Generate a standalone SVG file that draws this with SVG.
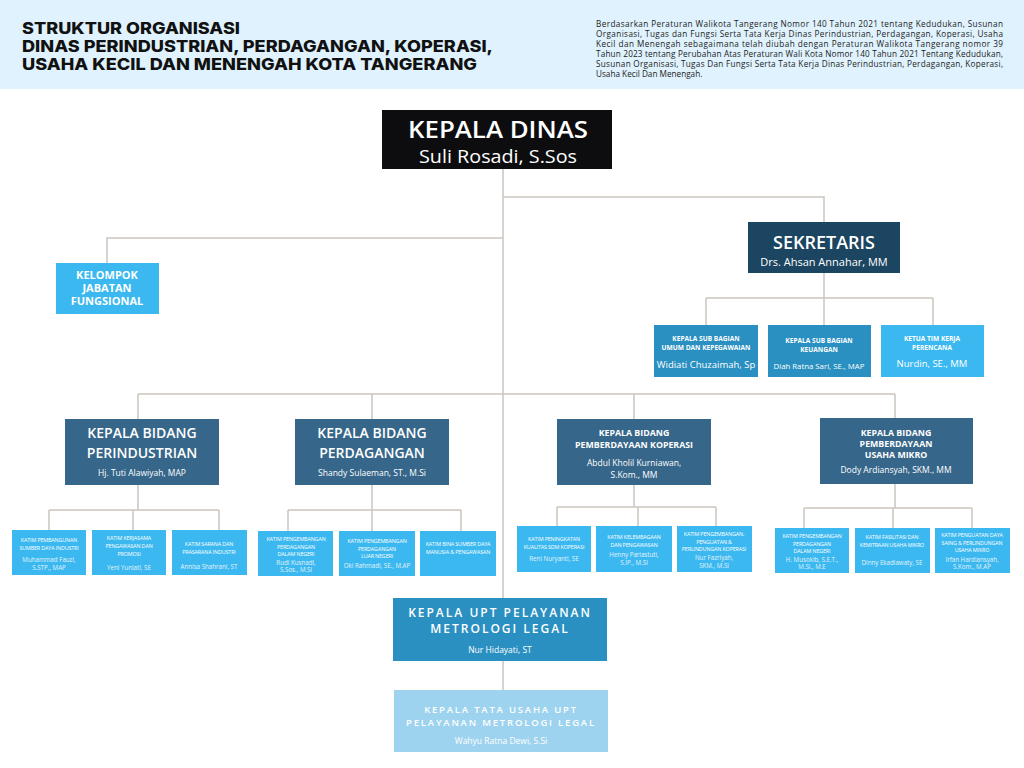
<svg xmlns="http://www.w3.org/2000/svg" width="1024" height="768" viewBox="0 0 1024 768">
<style>
.t{font-family:"Open Sans","Liberation Sans",sans-serif;fill:#fff;text-anchor:middle}
.b{font-weight:700}
.ttl{font-family:Inter,"Liberation Sans",sans-serif;font-weight:800;font-size:16.5px;fill:#111}
.par{font-family:"Open Sans","Liberation Sans",sans-serif;font-size:8.2px;fill:#222}
.kt{font-family:"Open Sans","Liberation Sans",sans-serif;font-size:5.4px;fill:#fff;text-anchor:middle;letter-spacing:-0.15px}
.kn{font-family:"Open Sans","Liberation Sans",sans-serif;font-size:6.2px;fill:#e3f3fc;text-anchor:middle}
.lb{fill:#3bb8ef}
.mb{fill:#2a8fc1}
.db{fill:#366689}
.ln{fill:none;stroke:#cbc5bd;stroke-width:1.5}
</style>
<rect width="1024" height="768" fill="#fff"/>
<g id="header">
<rect x="0" y="0" width="1024" height="89" fill="#dff2fd"/>
<text class="ttl" x="22" y="34" textLength="218" lengthAdjust="spacingAndGlyphs">STRUKTUR ORGANISASI</text>
<text class="ttl" x="22" y="52" textLength="471" lengthAdjust="spacingAndGlyphs">DINAS PERINDUSTRIAN, PERDAGANGAN, KOPERASI,</text>
<text class="ttl" x="22" y="70" textLength="455" lengthAdjust="spacingAndGlyphs">USAHA KECIL DAN MENENGAH KOTA TANGERANG</text>
<text class="par" x="596" y="27" textLength="407" lengthAdjust="spacing">Berdasarkan Peraturan Walikota Tangerang Nomor 140 Tahun 2021 tentang Kedudukan, Susunan</text>
<text class="par" x="596" y="37" textLength="407" lengthAdjust="spacing">Organisasi, Tugas dan Fungsi Serta Tata Kerja Dinas Perindustrian, Perdagangan, Koperasi, Usaha</text>
<text class="par" x="596" y="47" textLength="407" lengthAdjust="spacing">Kecil dan Menengah sebagaimana telah diubah dengan Peraturan Walikota Tangerang nomor 39</text>
<text class="par" x="596" y="57" textLength="407" lengthAdjust="spacing">Tahun 2023 tentang Perubahan Atas Peraturan Wali Kota Nomor 140 Tahun 2021 Tentang Kedudukan,</text>
<text class="par" x="596" y="67" textLength="407" lengthAdjust="spacing">Susunan Organisasi, Tugas Dan Fungsi Serta Tata Kerja Dinas Perindustrian, Perdagangan, Koperasi,</text>
<text class="par" x="596" y="77">Usaha Kecil Dan Menengah.</text>
</g>
<g id="connectors">
<path class="ln" d="M503 169V598M503 197H824V222M503 238H107V263"/>
<path class="ln" d="M824 273V298M706 298H933M706 298V325M824 298V325M933 298V325"/>
<path class="ln" d="M138 394H895M138 394V419M372 394V419M634 394V419M895 394V418"/>
<path class="ln" d="M138 485V510M49 510H219M49 510V530M133 510V530M219 510V530"/>
<path class="ln" d="M372 485V510M288 510H461M288 510V531M372 510V531M461 510V531"/>
<path class="ln" d="M634 485V507M557 507H716M557 507V526M638 507V526M716 507V526"/>
<path class="ln" d="M895 484V508M804 508H972M804 508V528M893 508V528M972 508V528"/>
<path class="ln" d="M503 661V690"/>
</g>
<g id="kepala-dinas">
<rect x="382" y="110" width="230" height="59" fill="#0d0d0f"/>
<text class="t" x="498" y="138" font-size="23" font-weight="600" textLength="180" lengthAdjust="spacingAndGlyphs">KEPALA DINAS</text>
<text class="t" x="498" y="163" font-size="18" textLength="158" lengthAdjust="spacingAndGlyphs">Suli Rosadi, S.Sos</text>
</g>
<g id="sekretaris">
<rect x="748" y="222" width="152" height="51" fill="#1b4560"/>
<text class="t" x="824" y="249" font-size="18" font-weight="600">SEKRETARIS</text>
<text class="t" x="824" y="266" font-size="11">Drs. Ahsan Annahar, MM</text>
</g>
<g id="kelompok-jabatan-fungsional">
<rect class="lb" x="56" y="263" width="103" height="51"/>
<text class="t b" x="107" y="279" font-size="11">KELOMPOK</text>
<text class="t b" x="107" y="292" font-size="11">JABATAN</text>
<text class="t b" x="107" y="305" font-size="11">FUNGSIONAL</text>
</g>
<g id="subbag-umum">
<rect class="mb" x="654" y="325" width="104" height="52"/>
<text class="t b" x="706" y="341" font-size="6.6">KEPALA SUB BAGIAN</text>
<text class="t b" x="706" y="349.5" font-size="6.6">UMUM DAN KEPEGAWAIAN</text>
<text class="t" x="706" y="368" font-size="9.5">Widiati Chuzaimah, Sp</text>
</g>
<g id="subbag-keuangan">
<rect class="mb" x="768" y="325" width="103" height="52"/>
<text class="t b" x="819" y="343" font-size="6.6">KEPALA SUB BAGIAN</text>
<text class="t b" x="819" y="351.5" font-size="6.6">KEUANGAN</text>
<text class="t" x="819" y="369" font-size="7.8">Diah Ratna Sari, SE., MAP</text>
</g>
<g id="ketua-tim-perencana">
<rect class="lb" x="881" y="325" width="103" height="52"/>
<text class="t b" x="932" y="341" font-size="6.6">KETUA TIM KERJA</text>
<text class="t b" x="932" y="349.5" font-size="6.6">PERENCANA</text>
<text class="t" x="932" y="367" font-size="9.5">Nurdin, SE., MM</text>
</g>
<g id="bidang-perindustrian">
<rect class="db" x="65" y="419" width="154" height="66"/>
<text class="t" x="142" y="438" font-size="14" font-weight="600">KEPALA BIDANG</text>
<text class="t" x="142" y="458" font-size="14" font-weight="600">PERINDUSTRIAN</text>
<text class="t" x="142" y="476" font-size="8.5">Hj. Tuti Alawiyah, MAP</text>
</g>
<g id="bidang-perdagangan">
<rect class="db" x="295" y="419" width="154" height="66"/>
<text class="t" x="372" y="438" font-size="14" font-weight="600">KEPALA BIDANG</text>
<text class="t" x="372" y="458" font-size="14" font-weight="600">PERDAGANGAN</text>
<text class="t" x="372" y="476" font-size="8.5">Shandy Sulaeman, ST., M.Si</text>
</g>
<g id="bidang-koperasi">
<rect class="db" x="557" y="419" width="154" height="66"/>
<text class="t b" x="634" y="436" font-size="8.8">KEPALA BIDANG</text>
<text class="t b" x="634" y="447.5" font-size="8.8">PEMBERDAYAAN KOPERASI</text>
<text class="t" x="634" y="466" font-size="8.5">Abdul Kholil Kurniawan,</text>
<text class="t" x="634" y="478" font-size="8.5">S.Kom., MM</text>
</g>
<g id="bidang-usaha-mikro">
<rect class="db" x="820" y="418" width="153" height="66"/>
<text class="t b" x="896" y="435.5" font-size="8.8">KEPALA BIDANG</text>
<text class="t b" x="896" y="446.5" font-size="8.8">PEMBERDAYAAN</text>
<text class="t b" x="896" y="457.5" font-size="8.8">USAHA MIKRO</text>
<text class="t" x="896" y="473" font-size="8.5">Dody Ardiansyah, SKM., MM</text>
</g>
<g id="katim-pembangunan-sdi">
<rect class="lb" x="12" y="530" width="74" height="45"/>
<text class="kt" x="49" y="542">KATIM PEMBANGUNAN</text>
<text class="kt" x="49" y="550">SUMBER DAYA INDUSTRI</text>
<text class="kn" x="49" y="562">Muhammad Fauzi,</text>
<text class="kn" x="49" y="570">S.STP., MAP</text>
</g>
<g id="katim-kerjasama">
<rect class="lb" x="92" y="530" width="74" height="45"/>
<text class="kt" x="129" y="540">KATIM KERJASAMA</text>
<text class="kt" x="129" y="548">PENGAWASAN DAN</text>
<text class="kt" x="129" y="556">PROMOSI</text>
<text class="kn" x="129" y="570">Yeni Yuniati, SE</text>
</g>
<g id="katim-sarana">
<rect class="lb" x="172" y="530" width="75" height="45"/>
<text class="kt" x="209" y="546">KATIM SARANA DAN</text>
<text class="kt" x="209" y="554">PRASARANA INDUSTRI</text>
<text class="kn" x="209" y="569">Annisa Shahrani, ST</text>
</g>
<g id="katim-pdn">
<rect class="lb" x="258" y="531" width="75" height="45"/>
<text class="kt" x="296" y="541">KATIM PENGEMBANGAN</text>
<text class="kt" x="296" y="548.5">PERDAGANGAN</text>
<text class="kt" x="296" y="556">DALAM NEGERI</text>
<text class="kn" x="296" y="564.5">Rudi Kusnadi,</text>
<text class="kn" x="296" y="572">S.Sos., M.Si</text>
</g>
<g id="katim-pln">
<rect class="lb" x="339" y="531" width="76" height="45"/>
<text class="kt" x="377" y="543">KATIM PENGEMBANGAN</text>
<text class="kt" x="377" y="550.5">PERDAGANGAN</text>
<text class="kt" x="377" y="558">LUAR NEGERI</text>
<text class="kn" x="377" y="568">Oki Rahmadi, SE., M.AP</text>
</g>
<g id="katim-bina-sdm">
<rect class="lb" x="420" y="531" width="76" height="45"/>
<text class="kt" x="458" y="546">KATIM BINA SUMBER DAYA</text>
<text class="kt" x="458" y="554">MANUSIA &amp; PENGAWASAN</text>
</g>
<g id="katim-kualitas-sdm">
<rect class="lb" x="517" y="526" width="74" height="46"/>
<text class="kt" x="554" y="541">KATIM PENINGKATAN</text>
<text class="kt" x="554" y="548.5">KUALITAS SDM KOPERASI</text>
<text class="kn" x="554" y="561">Reni Nuryanti, SE</text>
</g>
<g id="katim-kelembagaan">
<rect class="lb" x="596" y="526" width="76" height="46"/>
<text class="kt" x="634" y="539">KATIM KELEMBAGAAN</text>
<text class="kt" x="634" y="547">DAN PENGAWASAN</text>
<text class="kn" x="634" y="557">Henny Pariastuti,</text>
<text class="kn" x="634" y="564.5">S.IP., M.Si</text>
</g>
<g id="katim-perlindungan-koperasi">
<rect class="lb" x="677" y="526" width="75" height="46"/>
<text class="kt" x="714" y="536">KATIM PENGEMBANGAN,</text>
<text class="kt" x="714" y="543.5">PENGUATAN &amp;</text>
<text class="kt" x="714" y="551">PERLINDUNGAN KOPERASI</text>
<text class="kn" x="714" y="560">Nur Fazriyah,</text>
<text class="kn" x="714" y="567.5">SKM., M.Si</text>
</g>
<g id="katim-pdn-mikro">
<rect class="lb" x="775" y="528" width="74" height="45"/>
<text class="kt" x="812" y="538">KATIM PENGEMBANGAN</text>
<text class="kt" x="812" y="545.5">PERDAGANGAN</text>
<text class="kt" x="812" y="553">DALAM NEGERI</text>
<text class="kn" x="812" y="561.5">H. Musokib, S.E.T.,</text>
<text class="kn" x="812" y="569">M.Si., M.E</text>
</g>
<g id="katim-fasilitasi">
<rect class="lb" x="855" y="528" width="75" height="45"/>
<text class="kt" x="892" y="539">KATIM FASILITASI DAN</text>
<text class="kt" x="892" y="547">KEMITRAAN USAHA MIKRO</text>
<text class="kn" x="892" y="565">Dinny Ekadiawaty, SE</text>
</g>
<g id="katim-daya-saing">
<rect class="lb" x="935" y="528" width="75" height="45"/>
<text class="kt" x="972" y="537">KATIM PENGUATAN DAYA</text>
<text class="kt" x="972" y="544.5">SAING &amp; PERLINDUNGAN</text>
<text class="kt" x="972" y="552">USAHA MIKRO</text>
<text class="kn" x="972" y="561.5">Irfan Hardiansyah,</text>
<text class="kn" x="972" y="569">S.Kom., M.AP</text>
</g>
<g id="upt-metrologi">
<rect class="mb" x="393" y="598" width="214" height="63"/>
<text class="t" x="500" y="617" font-size="12" font-weight="600" letter-spacing="2">KEPALA UPT PELAYANAN</text>
<text class="t" x="500" y="633" font-size="12" font-weight="600" letter-spacing="2">METROLOGI LEGAL</text>
<text class="t" x="500" y="653" font-size="8.5">Nur Hidayati, ST</text>
</g>
<g id="tata-usaha-upt">
<rect x="394" y="690" width="214" height="62" fill="#9dd3ee"/>
<text class="t" x="501" y="713" font-size="9.5" font-weight="600" letter-spacing="1.8">KEPALA TATA USAHA UPT</text>
<text class="t" x="501" y="726" font-size="9.5" font-weight="600" letter-spacing="1.8">PELAYANAN METROLOGI LEGAL</text>
<text class="t" x="501" y="744" font-size="8.5">Wahyu Ratna Dewi, S.Si</text>
</g>
</svg>
